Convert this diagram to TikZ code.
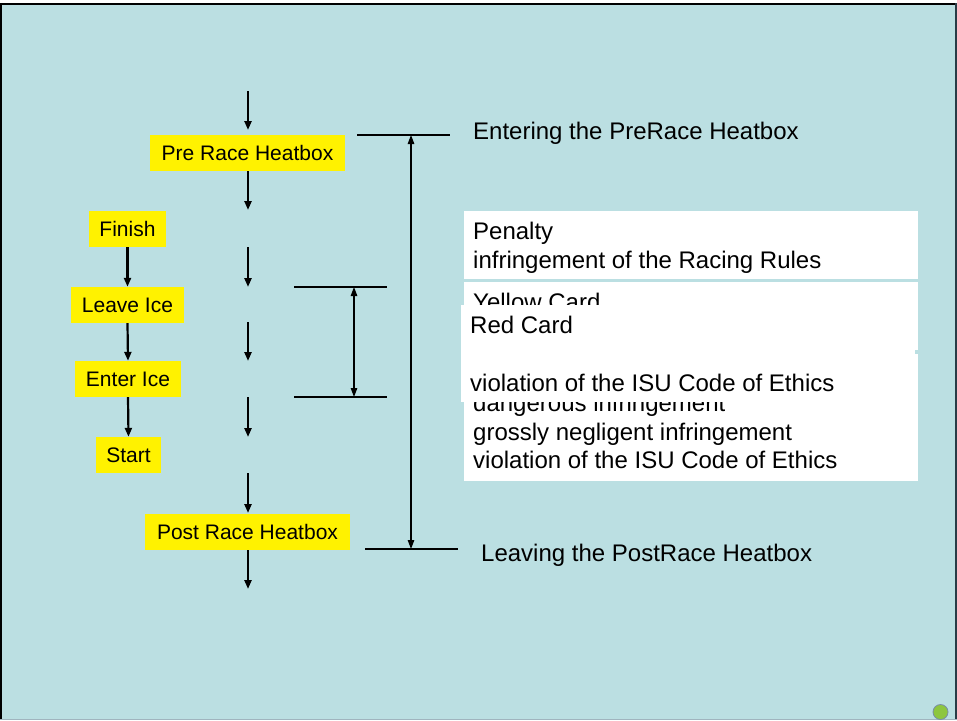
\documentclass[tikz,border=0pt]{standalone}
\usepackage{fontspec}
\setmainfont{Liberation Sans}
\usetikzlibrary{arrows.meta}
\definecolor{bgteal}{RGB}{187,223,226}
\definecolor{edgedark}{RGB}{40,60,70}
\definecolor{edgelight}{RGB}{160,180,190}
\definecolor{dotgreen}{RGB}{141,198,63}
\definecolor{dotedge}{RGB}{120,140,170}
\begin{document}
\begin{tikzpicture}[x=1pt,y=-1pt,
  ybox/.style={fill=yellow, inner sep=0pt, minimum height=36pt, font=\fontsize{21}{25}\selectfont},
  wbox/.style={fill=white, inner sep=0pt, anchor=north west},
  wtext/.style={anchor=base west, inner sep=0pt, font=\fontsize{24}{28}\selectfont},
  flowarr/.style={-{Triangle[length=9pt,width=7pt]}, line width=2.2pt},
  spanarr/.style={{Triangle[length=9pt,width=6.5pt]}-{Triangle[length=9pt,width=6.5pt]}, line width=1.2pt},
  tick/.style={line width=2pt}]
\useasboundingbox (0,0) rectangle (957,720);
\fill[white] (0,0) rectangle (957,720);
\fill[bgteal] (0,3) rectangle (957,720);
\fill[black] (0,3) rectangle (957,5.3);
\fill[black] (0,3) rectangle (2,720);
\fill[edgedark] (955,3) rectangle (957,720);
\fill[edgelight] (0,719) rectangle (957,720);

% yellow boxes
\node[ybox, minimum width=195pt] (pre) at (247.5,153) {Pre Race Heatbox};
\node[ybox, minimum width=77pt] (finish) at (127.5,229) {Finish};
\node[ybox, minimum width=113pt] (leave) at (127.5,305) {Leave Ice};
\node[ybox, minimum width=106pt] (enter) at (128,379) {Enter Ice};
\node[ybox, minimum width=65pt] (start) at (128.5,455) {Start};
\node[ybox, minimum width=205pt] (post) at (247.5,532) {Post Race Heatbox};

% left chain
\draw[flowarr] (finish.south) -- (leave.north);
\draw[flowarr] (leave.south) -- (enter.north);
\draw[flowarr] (enter.south) -- (start.north);

% middle column
\coordinate (m0a) at (248,91);   \coordinate (m0b) at (248,130);
\coordinate (m1b) at (248,210);
\coordinate (m2a) at (248,247);  \coordinate (m2b) at (248,287);
\coordinate (m3a) at (248,322);  \coordinate (m3b) at (248,361);
\coordinate (m4a) at (248,397);  \coordinate (m4b) at (248,437);
\coordinate (m5a) at (248,473);  \coordinate (m5b) at (248,513);
\coordinate (m6b) at (248,589);
\draw[flowarr] (m0a) -- (m0b);
\draw[flowarr] (pre.south -| m1b) -- (m1b);
\draw[flowarr] (m2a) -- (m2b);
\draw[flowarr] (m3a) -- (m3b);
\draw[flowarr] (m4a) -- (m4b);
\draw[flowarr] (m5a) -- (m5b);
\draw[flowarr] (post.south -| m6b) -- (m6b);

% long span
\coordinate (ta) at (357,135); \coordinate (tb) at (450,135);
\coordinate (ba) at (365,549); \coordinate (bb) at (458,549);
\coordinate (la) at (411,135); \coordinate (lb) at (411,549);
\draw[tick] (ta) -- (tb);
\draw[tick] (ba) -- (bb);
\draw[spanarr] (la) -- (lb);
\node[wtext] (entering) at (473,139.3) {Entering the PreRace Heatbox};
\node[wtext] (leaving) at (481,561) {Leaving the PostRace Heatbox};

% short span
\coordinate (sa) at (294,287); \coordinate (sb) at (387,287);
\coordinate (sc) at (294,397); \coordinate (sd) at (387,397);
\coordinate (s1) at (354,287); \coordinate (s2) at (354,397);
\draw[tick] (sa) -- (sb);
\draw[tick] (sc) -- (sd);
\draw[spanarr] (s1) -- (s2);

% penalty box
\node[wbox, minimum width=454pt, minimum height=68pt] (penbox) at (464,211) {};
\node[wtext] (pen1) at (473,239.3) {Penalty};
\node[wtext] (pen2) at (473,268) {infringement of the Racing Rules};

% yellow card box
\node[wbox, minimum width=454pt, minimum height=68pt] (ycbox) at (464,282) {};
\node[wbox, minimum width=454pt, minimum height=127pt] (ycbox2) at (464,354) {};
\node[wtext] (yc1) at (473,310) {Yellow Card};
\node[wtext] (yc2) at (473,411) {dangerous infringement};
\node[wtext] (yc3) at (473,440) {grossly negligent infringement};
\node[wtext] (yc4) at (473,468) {violation of the ISU Code of Ethics};

% red card box
\node[wbox, minimum width=454pt, minimum height=97pt] (rcbox) at (461,305) {};
\node[wtext] (rc1) at (470,333) {Red Card};
\node[wtext] (rc2) at (470,391) {violation of the ISU Code of Ethics};

% corner dot
\node[circle, fill=dotgreen, draw=dotedge, line width=0.8pt, minimum size=15pt, inner sep=0pt] (dot) at (940.5,712) {};
\end{tikzpicture}
\end{document}
